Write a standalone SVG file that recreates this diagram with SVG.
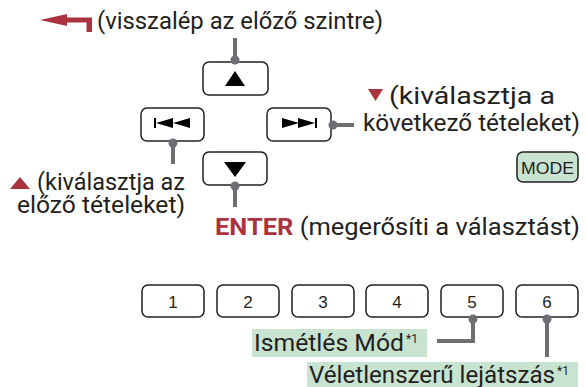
<svg xmlns="http://www.w3.org/2000/svg" width="586" height="387" viewBox="0 0 586 387">
<defs>
<style>
.btn{fill:#fff;stroke:#231f20;stroke-width:1.5}
.mode{fill:#c9e3d1;stroke:#231f20;stroke-width:1.5}
.t{font-family:Roboto,"Open Sans",sans-serif;font-size:23px;fill:#231f20}
.sup{font-family:Roboto,"Open Sans",sans-serif;font-size:12px;fill:#231f20}
.red{fill:#a9343f}
.k{font-family:"Liberation Sans",Arial,sans-serif;font-size:17px;fill:#231f20;text-anchor:middle}
.ln{stroke:#6d6e71;stroke-width:4;fill:none}
.dot{fill:#6d6e71}
.ic{fill:#000}
.hl{fill:#c9e3d1}
</style>
</defs>
<rect width="586" height="387" fill="#fff"/>

<g id="back-label">
<path class="red" d="M40,20 L67,14 L67,17.5 L92,17.5 L92,32 L86.5,32 L86.5,22.5 L67,22.5 L67,26 Z"/>
<text class="t" x="97" y="29" textLength="286" lengthAdjust="spacingAndGlyphs">(visszalép az előző szintre)</text>
</g>

<g id="up-btn">
<rect class="btn" x="203" y="62" width="65" height="33" rx="6"/>
<path class="ic" d="M235,71 L245,86 L225,86 Z"/>
</g>
<g id="prev-btn">
<rect class="btn" x="141" y="108" width="63" height="33" rx="6"/>
<rect class="ic" x="154" y="118" width="2" height="10"/>
<path class="ic" d="M156,123 L173,118 L173,128 Z M173,123 L190,118 L190,128 Z"/>
</g>
<g id="next-btn">
<rect class="btn" x="267" y="108" width="64" height="33" rx="6"/>
<path class="ic" d="M282,118 L299,123 L282,128 Z M298,118 L315,123 L298,128 Z"/>
<rect class="ic" x="315" y="118" width="2" height="10"/>
</g>
<g id="down-btn">
<rect class="btn" x="203" y="152" width="64" height="33" rx="6"/>
<path class="ic" d="M224,162 L246,162 L235,177 Z"/>
</g>
<g id="mode-btn">
<rect class="mode" x="517" y="152" width="61" height="30" rx="6"/>
<text class="k" x="547.5" y="173.5" textLength="53" lengthAdjust="spacingAndGlyphs">MODE</text>
</g>

<g id="num-btns">
<g id="btn-1"><rect class="btn" x="142" y="285" width="62" height="32" rx="6"/><text class="k" x="173" y="308">1</text></g>
<g id="btn-2"><rect class="btn" x="217" y="285" width="62" height="32" rx="6"/><text class="k" x="248" y="308">2</text></g>
<g id="btn-3"><rect class="btn" x="292" y="285" width="62" height="32" rx="6"/><text class="k" x="323" y="308">3</text></g>
<g id="btn-4"><rect class="btn" x="366" y="285" width="62" height="32" rx="6"/><text class="k" x="397" y="308">4</text></g>
<g id="btn-5"><rect class="btn" x="441" y="285" width="62" height="32" rx="6"/><text class="k" x="472" y="308">5</text></g>
<g id="btn-6"><rect class="btn" x="516" y="285" width="62" height="32" rx="6"/><text class="k" x="547" y="308">6</text></g>
</g>

<g id="connectors">
<path class="ln" d="M235,38 V59"/><circle class="dot" cx="235" cy="60" r="4.5"/>
<path class="ln" d="M173,143 V164"/><circle class="dot" cx="173" cy="143" r="4.5"/>
<path class="ln" d="M333,125 H354"/><circle class="dot" cx="333" cy="125" r="4.5"/>
<path class="ln" d="M235,186 V207"/><circle class="dot" cx="235" cy="186" r="4.5"/>
<path class="ln" d="M473,319 V341 H437"/><circle class="dot" cx="473" cy="319" r="4.5"/>
<path class="ln" d="M547,319 V357"/><circle class="dot" cx="547" cy="319" r="4.5"/>
</g>

<g id="next-label">
<path class="red" d="M368,89 L383,89 L375.5,101 Z"/>
<text class="t" x="389" y="104" textLength="166" lengthAdjust="spacingAndGlyphs">(kiválasztja a</text>
<text class="t" x="363" y="131" textLength="217" lengthAdjust="spacingAndGlyphs">következő tételeket)</text>
</g>

<g id="prev-label">
<path class="red" d="M10,189 L20,177 L30,189 Z"/>
<text class="t" x="37" y="190" textLength="148" lengthAdjust="spacingAndGlyphs">(kiválasztja az</text>
<text class="t" x="17" y="213" textLength="168" lengthAdjust="spacingAndGlyphs">előző tételeket)</text>
</g>

<g id="enter-label">
<text class="t" x="215" y="235" textLength="365" lengthAdjust="spacingAndGlyphs"><tspan class="red" font-weight="bold">ENTER</tspan> (megerősíti a választást)</text>
</g>

<g id="repeat-label">
<rect class="hl" x="252" y="329" width="175" height="28"/>
<text class="t" x="254" y="351" textLength="150" lengthAdjust="spacingAndGlyphs">Ismétlés Mód</text>
<text class="sup" x="406" y="343" textLength="12" lengthAdjust="spacingAndGlyphs">*1</text>
</g>
<g id="shuffle-label">
<rect class="hl" x="307" y="362" width="271" height="25"/>
<text class="t" x="309" y="383" textLength="246" lengthAdjust="spacingAndGlyphs">Véletlenszerű lejátszás</text>
<text class="sup" x="557" y="375" textLength="12" lengthAdjust="spacingAndGlyphs">*1</text>
</g>
</svg>
